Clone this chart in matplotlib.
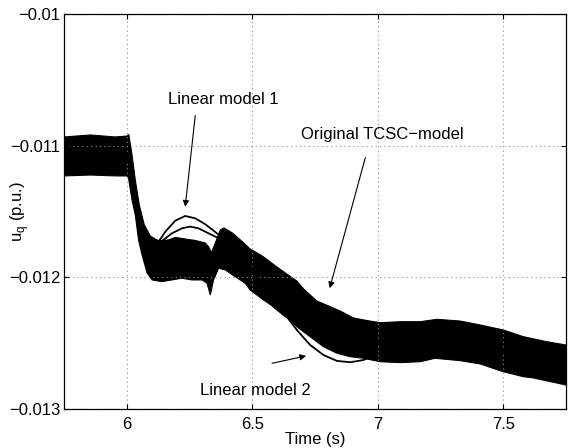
import matplotlib
matplotlib.use('Agg')
import matplotlib.pyplot as plt

plt.rcParams['font.family'] = ['Liberation Sans', 'DejaVu Sans']
plt.rcParams['font.size'] = 12

# Original TCSC model: envelope of the fast oscillation (upper / lower edge)
t_up = [5.75, 5.854, 5.953, 6.001, 6.007, 6.019, 6.033, 6.049, 6.069, 6.093,
        6.125, 6.165, 6.192, 6.232, 6.272, 6.312, 6.326, 6.336, 6.352, 6.372,
        6.386, 6.420, 6.459, 6.491, 6.539, 6.598, 6.637, 6.677, 6.704, 6.757,
        6.810, 6.850, 6.903, 6.956, 7.009, 7.089, 7.169, 7.235, 7.328, 7.408,
        7.500, 7.580, 7.673, 7.750]
uq_up = [-0.010934, -0.010919, -0.010934, -0.010927, -0.010915, -0.011056,
         -0.011261, -0.011451, -0.011603, -0.011686, -0.011724, -0.011716,
         -0.011697, -0.011709, -0.011720, -0.011739, -0.011770, -0.011815,
         -0.011739, -0.011640, -0.011625, -0.011663, -0.011728, -0.011785,
         -0.011838, -0.011922, -0.011975, -0.012028, -0.012089, -0.012180,
         -0.012223, -0.012256, -0.012309, -0.012328, -0.012345, -0.012337,
         -0.012337, -0.012319, -0.012332, -0.012362, -0.012400, -0.012451,
         -0.012489, -0.012514]

t_lo = [5.75, 5.854, 5.953, 6.001, 6.006, 6.020, 6.033, 6.046, 6.060, 6.080,
        6.100, 6.139, 6.179, 6.219, 6.259, 6.299, 6.319, 6.332, 6.345, 6.365,
        6.392, 6.431, 6.471, 6.491, 6.544, 6.584, 6.624, 6.677, 6.730, 6.783,
        6.837, 6.890, 6.943, 7.009, 7.089, 7.169, 7.228, 7.328, 7.408, 7.500,
        7.580, 7.619, 7.750]
uq_lo = [-0.011230, -0.011223, -0.011230, -0.011230, -0.011246, -0.011413,
         -0.011527, -0.011716, -0.011830, -0.011967, -0.012020, -0.012033,
         -0.012020, -0.012007, -0.012020, -0.012020, -0.012045, -0.012134,
         -0.012020, -0.011931, -0.011944, -0.011995, -0.012045, -0.012096,
         -0.012172, -0.012223, -0.012273, -0.012375, -0.012451, -0.012527,
         -0.012577, -0.012603, -0.012615, -0.012641, -0.012648, -0.012641,
         -0.012615, -0.012633, -0.012658, -0.012717, -0.012755, -0.012764,
         -0.012818]

# Linear model 1
t_lin1 = [5.75, 6.001, 6.013, 6.037, 6.061, 6.093, 6.126, 6.153, 6.192, 6.232,
          6.272, 6.312, 6.345, 6.372, 6.431, 6.491, 6.543, 6.584, 6.624, 6.664,
          6.704, 6.730, 6.810, 6.890, 7.009, 7.2, 7.5, 7.75]
uq_lin1 = [-0.011078, -0.011078, -0.011185, -0.011413, -0.011603, -0.011716,
           -0.011729, -0.011653, -0.011570, -0.011534, -0.011552, -0.011597,
           -0.011646, -0.011686, -0.011792, -0.011906, -0.012073, -0.012223,
           -0.012286, -0.012337, -0.012387, -0.012423, -0.012476, -0.012491,
           -0.012491, -0.012490, -0.012560, -0.012670]

# Linear model 2
t_lin2 = [5.75, 6.001, 6.013, 6.037, 6.061, 6.093, 6.139, 6.179, 6.219, 6.252,
          6.285, 6.325, 6.352, 6.380, 6.451, 6.511, 6.551, 6.584, 6.637, 6.677,
          6.730, 6.783, 6.837, 6.890, 6.943, 6.961, 7.009, 7.2, 7.5, 7.75]
uq_lin2 = [-0.011078, -0.011078, -0.011185, -0.011413, -0.011603, -0.011716,
           -0.011724, -0.011666, -0.011628, -0.011615, -0.011628, -0.011666,
           -0.011691, -0.011716, -0.011830, -0.011982, -0.012134, -0.012223,
           -0.012299, -0.012400, -0.012514, -0.012590, -0.012635, -0.012645,
           -0.012628, -0.012613, -0.012567, -0.012490, -0.012560, -0.012670]

xticks = [6, 6.5, 7, 7.5]
xticklabels = ['6', '6.5', '7', '7.5']
yticks = [-0.013, -0.012, -0.011, -0.01]
yticklabels = ['\u22120.013', '\u22120.012', '\u22120.011', '\u22120.01']

fig = plt.figure(figsize=(5.68, 4.48), dpi=100)
ax = fig.add_axes([0.1132, 0.0871, 0.8833, 0.8817])

# band of the original model
ax.fill(t_up + t_lo[::-1], uq_up + uq_lo[::-1], color='k', lw=0.8)
ax.plot(t_lin1, uq_lin1, color='k', lw=1.3)
ax.plot(t_lin2, uq_lin2, color='k', lw=1.3)

ax.set_xlim(5.75, 7.75)
ax.set_ylim(-0.013, -0.01)
ax.set_xticks(xticks)
ax.set_xticklabels(xticklabels)
ax.set_yticks(yticks)
ax.set_yticklabels(yticklabels)
ax.tick_params(direction='in', top=True, right=True, length=3.6, width=0.8,
               labelsize=12)
ax.tick_params(axis='x', pad=6)
ax.tick_params(axis='y', pad=3)
ax.grid(True, color='0.55', linestyle=(0, (1, 3)), lw=0.8)
for s in ax.spines.values():
    s.set_linewidth(0.9)

ax.set_xlabel('Time (s)', fontsize=12, labelpad=0)
ax.set_ylabel(r'u$_{\mathregular{q}}$ (p.u.)', fontsize=12)
ax.yaxis.set_label_coords(-0.066, 0.5)

arr = dict(arrowstyle='-|>', color='k', lw=0.8, mutation_scale=9,
           shrinkA=0, shrinkB=0)
ax.text(6.384, -0.010653, 'Linear model 1', ha='center', va='center')
ax.annotate('', xy=(6.232, -0.011464), xytext=(6.272, -0.010772),
            arrowprops=arr)
ax.text(7.017, -0.010914, 'Original TCSC\u2212model', ha='center', va='center')
ax.annotate('', xy=(6.808, -0.012083), xytext=(6.950, -0.011091),
            arrowprops=arr)
ax.text(6.510, -0.012856, 'Linear model 2', ha='center', va='center')
ax.annotate('', xy=(6.714, -0.012597), xytext=(6.578, -0.012653),
            arrowprops=arr)

fig.savefig('out.png', dpi=100)
